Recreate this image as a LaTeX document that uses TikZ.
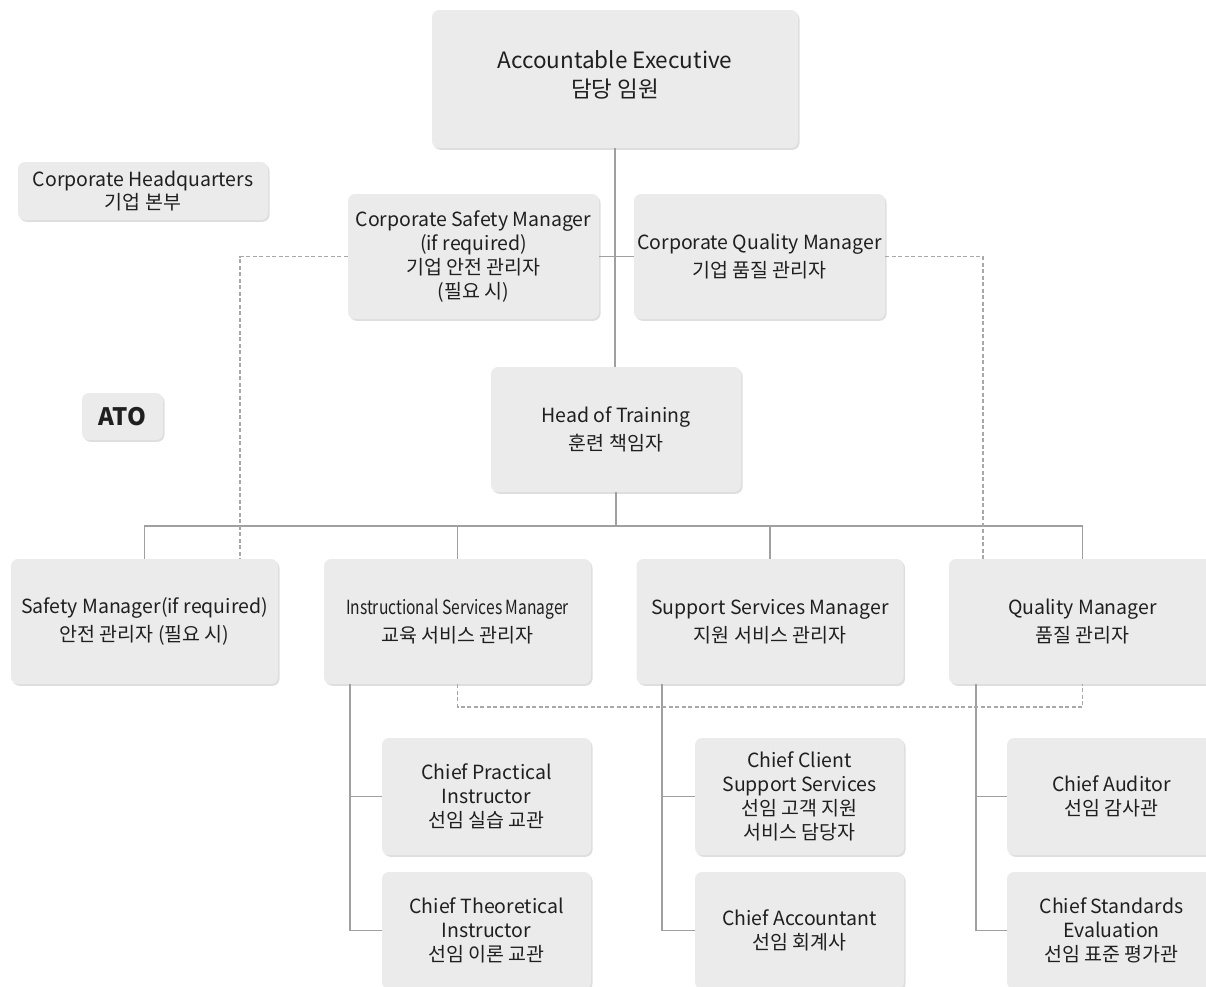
\documentclass[tikz,border=0pt]{standalone}
\usepackage{fontspec}
\setmainfont{Noto Sans CJK KR}
\usetikzlibrary{positioning,shadows}
\definecolor{boxgray}{RGB}{235,235,235}
\definecolor{linegray}{RGB}{160,160,160}
\definecolor{dashgray}{RGB}{168,168,168}

\begin{document}
\begin{tikzpicture}[x=1pt,y=-1pt,
  post/.style={fill=boxgray,rounded corners=7pt,align=center,inner sep=0pt,
    font=\fontsize{19.5}{24}\selectfont,text=black!88,
    drop shadow={shadow xshift=1.5pt,shadow yshift=-1.8pt,fill=black,opacity=0.13}},
  pair/.style={font=\fontsize{19.5}{28}\selectfont},
  wide/.style={post,pair,minimum width=267pt,minimum height=125pt},
  mid/.style={post,minimum width=251pt,minimum height=125pt},
  chief/.style={post,minimum width=209pt,minimum height=117pt},
  link/.style={draw=linegray,line width=1.9pt},
  dotlink/.style={draw=dashgray,line width=1.5pt,dash pattern=on 4pt off 2.5pt}]
  \useasboundingbox (0,0) rectangle (1206,986);

  % top level
  \node[post,minimum width=366pt,minimum height=138pt,font=\fontsize{22.5}{29}\selectfont] (AE) at (615,79) {Accountable Executive\\담당 임원\\[-19pt]\mbox{}};
  \node[post,minimum width=250pt,minimum height=58pt,font=\fontsize{19.5}{23}\selectfont] (HQ) at (143,191) {Corporate Headquarters\\기업 본부};
  \node[mid] (CSM) at (473.5,256.5) {Corporate Safety Manager\\(if required)\\기업 안전 관리자\\(필요 시)};
  \node[mid,pair] (CQM) at (759.5,256.5) {Corporate Quality Manager\\기업 품질 관리자};
  \node[post,minimum width=81pt,minimum height=47pt,font=\fontsize{24}{30}\selectfont\bfseries] (ATO) at (122.5,416.5) {ATO};
  \node[mid,pair,minimum width=250pt] (HoT) at (616,429.5) {Head of Training\\훈련 책임자};

  % managers
  \node[wide] (SM) at (144.5,621.5) {Safety Manager(if required)\\안전 관리자 (필요 시)};
  \node[wide] (ISM) at (457.5,621.5) {\scalebox{0.8}[1]{Instructional Services Manager}\\교육 서비스 관리자};
  \node[wide] (SSM) at (770,621.5) {Support Services Manager\\지원 서비스 관리자};
  \node[wide] (QM) at (1082.5,621.5) {Quality Manager\\품질 관리자};

  % chiefs
  \node[chief] (CPI) at (486.5,796.5) {Chief Practical\\Instructor\\선임 실습 교관};
  \node[chief] (CTI) at (486.5,930.5) {Chief Theoretical\\Instructor\\선임 이론 교관};
  \node[chief] (CCS) at (799.5,796.5) {Chief Client\\Support Services\\선임 고객 지원\\서비스 담당자};
  \node[chief] (CAC) at (799.5,930.5) {Chief Accountant\\선임 회계사};
  \node[chief] (CAU) at (1111.5,796.5) {Chief Auditor\\선임 감사관};
  \node[chief] (CSE) at (1111.5,930.5) {Chief Standards\\Evaluation\\선임 표준 평가관};

  % solid lines
  \coordinate (bus) at (0,526);
  \draw[link] (AE.south) -- (AE.south |- HoT.north);
  \draw[link] (CSM.east) -- (CQM.west);
  \draw[link] (HoT.south) -- (HoT.south |- bus);
  \draw[link] (SM.north) |- (QM.north |- bus) -- (QM.north);
  \foreach \n in {ISM,SSM}
    \draw[link] (\n.north) -- (\n.north |- bus);
  \coordinate (trunkI) at ([xshift=26pt]ISM.south west);
  \coordinate (trunkS) at ([xshift=26pt]SSM.south west);
  \coordinate (trunkQ) at ([xshift=27pt]QM.south west);
  \draw[link] (trunkI) |- (CTI.west);
  \draw[link] (CPI.west) -- (CPI.west -| trunkI);
  \draw[link] (trunkS) |- (CAC.west);
  \draw[link] (CCS.west) -- (CCS.west -| trunkS);
  \draw[link] (trunkQ) |- (CSE.west);
  \draw[link] (CAU.west) -- (CAU.west -| trunkQ);

  % dashed lines
  \draw[dotlink] (CSM.west) -| ([xshift=-38pt]SM.north east);
  \draw[dotlink] (CQM.east) -| ([xshift=34pt]QM.north west);
  \draw[dotlink] (ISM.south) -- ++(0,23) -| (QM.south);
\end{tikzpicture}
\end{document}
